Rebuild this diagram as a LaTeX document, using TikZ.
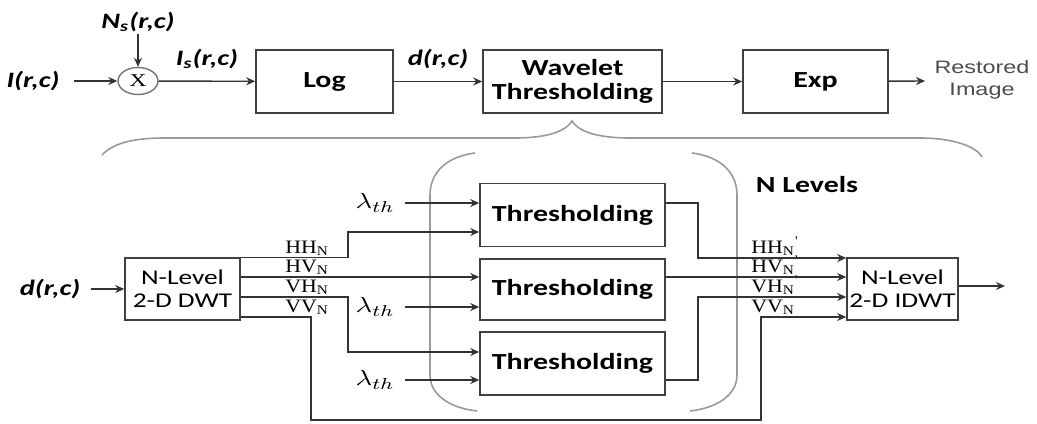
\documentclass[tikz,border=0pt]{standalone}
\usepackage{fontspec}
\usepackage{graphicx}
\usetikzlibrary{shapes.geometric, arrows.meta, positioning}
\newfontfamily\calfont{Carlito}
\newfontfamily\arialfont{Liberation Sans}
\newfontfamily\serfont{Liberation Serif}
\newcommand{\wtxt}[1]{\scalebox{1.3}[1]{#1}}
\newcommand{\btxt}[1]{\scalebox{1.15}[1]{#1}}
\tikzstyle{block} = [
rectangle, draw=black!75, line width=0.8pt, minimum height=31.5pt,
inner sep=0pt, align=center, font=\calfont\bfseries\fontsize{11.5}{12}\selectfont
]
\tikzstyle{block_S} = [
rectangle, draw=black!75, line width=0.8pt, minimum height=31pt,
inner sep=0pt, align=center, font=\calfont\fontsize{10.5}{11.5}\selectfont
]
\tikzstyle{sig} = [inner sep=1pt, font=\calfont\bfseries\itshape\fontsize{11}{13}\selectfont]
\tikzstyle{band} = [inner sep=0.5pt, font=\serfont\fontsize{9.5}{10}\selectfont]
\tikzstyle{lam} = [inner sep=5pt, font=\fontsize{11}{13}\selectfont]
\tikzstyle{wire} = [line width=0.7pt, draw=black!80]
\tikzstyle{arrow} = [wire, -{Stealth[length=4.5pt, width=4pt]}]
\tikzstyle{bracket} = [line width=0.8pt, draw=black!40]

\begin{document}
\begin{tikzpicture}[x=0.5pt, y=-0.5pt]
			\useasboundingbox (0,0) rectangle (1037,423);

			% Nodes da cadeia de cima
			\node (Mult) [ellipse, draw=black!55, line width=0.7pt, minimum width=20pt, minimum height=13.5pt, inner sep=0pt, font=\serfont\fontsize{9}{10}\selectfont] at (138,81) {\wtxt{X}};
			\node (I_in) [sig, inner xsep=7pt] at (33,81) {\wtxt{I(r,c)}};
			\node (N_s) [sig] at (138,22) {\wtxt{N\textsubscript{s}(r,c)}};
			\node (Log) [block, minimum width=68.5pt] at (324.5,81.5) {\wtxt{Log}};
			\node (Wav) [block, minimum width=89.5pt] at (572.5,81.5) {\wtxt{Wavelet}\\\wtxt{Thresholding}};
			\node (Exp) [block, minimum width=72.5pt] at (815.5,81.5) {\wtxt{Exp}};
			\node (Rest) [align=center, text=black!70, font=\arialfont\fontsize{9}{11}\selectfont] at (982,80) {\wtxt{Restored}\\\wtxt{Image}};
			\coordinate (Out_top) at (925,81);

			% Nodes da cadeia de baixo
			\node (D_in) [sig, inner xsep=5pt] at (50,289) {\wtxt{d(r,c)}};
			\node (DWT) [block_S, minimum width=57.5pt] at (182.5,289) {\wtxt{N-Level}\\\wtxt{2-D DWT}};
			\node (Thr1) [block, minimum width=92.5pt] at (572.5,215) {\wtxt{Thresholding}};
			\node (Thr2) [block, minimum width=92.5pt, minimum height=30.5pt] at (572.5,289.5) {\wtxt{Thresholding}};
			\node (Thr3) [block, minimum width=92.5pt] at (572.5,363.5) {\wtxt{Thresholding}};
			\node (IDWT) [block_S, minimum width=55.5pt] at (902.5,289) {\wtxt{N-Level}\\\wtxt{2-D IDWT}};
			\node (Lam1) [lam] at (375,203) {\wtxt{$\lambda_{th}$}};
			\node (Lam2) [lam] at (375,307) {\wtxt{$\lambda_{th}$}};
			\node (Lam3) [lam] at (375,380) {\wtxt{$\lambda_{th}$}};
			\node (NLev) [font=\calfont\bfseries\fontsize{11.5}{12}\selectfont] at (807,185) {\wtxt{N Levels}};
			\coordinate (Out_bot) at (1005,286);

			% Labels das sub-bandas
			\node (HH_l) [band, anchor=south west] at (284,257) {\btxt{HH\textsubscript{N}}};
			\node (HV_l) [band, anchor=south west] at (284,276) {\btxt{HV\textsubscript{N}}};
			\node (VH_l) [band, anchor=south west] at (284,296) {\btxt{VH\textsubscript{N}}};
			\node (VV_l) [band, anchor=south west] at (284,316) {\btxt{VV\textsubscript{N}}};
			\node (HH_r) [band, anchor=south west] at (750,257) {\btxt{HH\textsubscript{N}\textsuperscript{'}}};
			\node (HV_r) [band, anchor=south west] at (750,276) {\btxt{HV\textsubscript{N}\textsuperscript{'}}};
			\node (VH_r) [band, anchor=south west] at (750,296) {\btxt{VH\textsubscript{N}\textsuperscript{'}}};
			\node (VV_r) [band, anchor=south west] at (750,316) {\btxt{VV\textsubscript{N}}};

			% Connections de cima
			\draw [arrow] (I_in) -- (Mult);
			\draw [arrow] (N_s) -- (Mult);
			\draw [arrow] (Mult) -- node[sig, above=5pt] {\wtxt{I\textsubscript{s}(r,c)}} (Log);
			\draw [arrow] (Log) -- node[sig, above=5pt] {\wtxt{d(r,c)}} (Wav);
			\draw [arrow] (Wav) -- (Exp);
			\draw [arrow] (Exp) -- (Out_top);

			% Chave e parenteses
			\draw [bracket] (102,155) .. controls (115,141) and (140,138) .. (165,138) -- (515,138) .. controls (548,138) and (566,131) .. (572,121) .. controls (578,131) and (596,138) .. (630,138) -- (920,138) .. controls (952,138) and (976,146) .. (982,157);
			\draw [bracket] (475,153) .. controls (450,156) and (430,170) .. (430,195) -- (430,375) .. controls (430,395) and (450,408) .. (477,411);
			\draw [bracket] (692,153) .. controls (717,156) and (737,170) .. (737,195) -- (737,375) .. controls (737,395) and (717,408) .. (690,411);

			% Connections de baixo
			\draw [arrow] (D_in) -- (DWT);
			\draw [arrow] (DWT.north east) -| (348,232) -- (Thr1.west |- 348,232);
			\draw [arrow] (DWT.east |- 0,277) -- (Thr2.west |- 0,277);
			\draw [arrow] (DWT.east |- 0,297) -| (348,352) -- (Thr3.west |- 0,352);
			\draw [arrow] (DWT.east |- 0,317) -| (311,420) -| (761,317) -- (IDWT.west |- 0,317);
			\draw [arrow] (Lam1.east) -- (Thr1.west |- Lam1.east);
			\draw [arrow] (Lam2.east) -- (Thr2.west |- Lam2.east);
			\draw [arrow] (Lam3.east) -- (Thr3.west |- Lam3.east);

			% Final Connections
			\draw [arrow] (Thr1.east |- 0,203) -| (698,258) -- (IDWT.west |- 0,258);
			\draw [arrow] (Thr2.east |- 0,277) -- (IDWT.west |- 0,277);
			\draw [arrow] (Thr3.east |- 0,380) -| (698,297) -- (IDWT.west |- 0,297);
			\draw [arrow] (IDWT.east |- 0,286) -- (Out_bot);

		\end{tikzpicture}
\end{document}
